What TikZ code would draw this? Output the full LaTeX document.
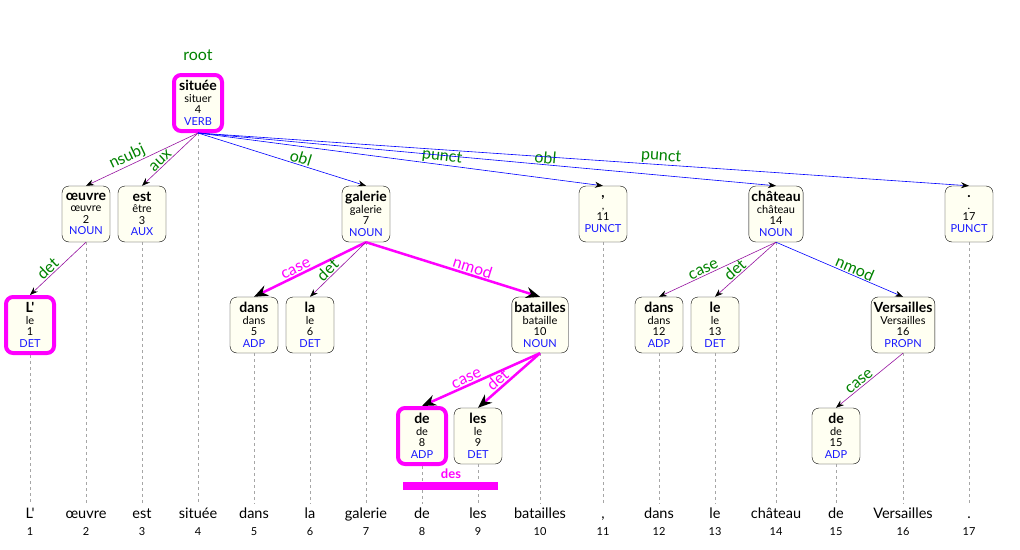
\documentclass[tikz,border=0pt]{standalone}
\usepackage{fontspec}
\setmainfont{Lato}[Ligatures=TeXOff]
\usetikzlibrary{arrows.meta}
\definecolor{tokfill}{RGB}{255,255,242}
\definecolor{hlmag}{RGB}{255,0,255}
\definecolor{posblue}{RGB}{25,25,255}
\definecolor{relgreen}{RGB}{0,130,0}
\definecolor{arcpurple}{RGB}{150,20,160}
\definecolor{arcblue}{RGB}{0,0,255}
\newcommand{\tokt}[4]{{\fontsize{14}{11.5}\selectfont\bfseries #1}\\#2\\#3\\\textcolor{posblue}{#4}}
\begin{document}
\begin{tikzpicture}[x=1pt,y=-1pt,
    tok/.style={draw, rounded corners=7pt, fill=tokfill, align=center,
      minimum width=48pt, minimum height=56pt, inner sep=2.5pt,
      font=\fontsize{11}{11.5}\selectfont},
    hl/.style={draw=hlmag, line width=4pt},
    thinarc/.style={line width=0.6pt, -{Stealth[black,length=8pt,width=6pt]}},
    thickarc/.style={draw=hlmag, line width=2.5pt, -{Stealth[black,length=14pt,width=11pt]}},
    rel/.style={pos=0.6, sloped, above, inner sep=1pt, text=relgreen,
      font=\fontsize{16}{17}\selectfont},
    hlrel/.style={rel, text=hlmag},
    guide/.style={draw=gray!70, line width=0.9pt, dash pattern=on 3pt off 3pt},
    word/.style={anchor=base, text height=10.5pt, text depth=3pt, inner sep=3pt,
      font=\fontsize{14.5}{15}\selectfont},
    idx/.style={anchor=base, font=\fontsize{11}{12}\selectfont}]
    \useasboundingbox (0,0) rectangle (1020,549);

    % Root
    \node[tok, hl] (n4) at (198,103) {\tokt{située}{situer}{4}{VERB}};
    \node[text=relgreen, font=\fontsize{16}{17}\selectfont] (root) at (198,55) {root};

    % Level 1
    \node[tok] (n2) at (86,214) {\tokt{œuvre}{œuvre}{2}{NOUN}};
    \node[tok] (n3) at (142,214) {\tokt{est}{être}{3}{AUX}};
    \node[tok] (n7) at (366,214) {\tokt{galerie}{galerie}{7}{NOUN}};
    \node[tok] (n11) at (603,214) {\tokt{,}{,}{11}{PUNCT}};
    \node[tok] (n14) at (776,214) {\tokt{château}{château}{14}{NOUN}};
    \node[tok] (n17) at (969,214) {\tokt{.}{.}{17}{PUNCT}};

    % Level 2
    \node[tok, hl] (n1) at (30,325) {\tokt{L'}{le}{1}{DET}};
    \node[tok] (n5) at (254,325) {\tokt{dans}{dans}{5}{ADP}};
    \node[tok] (n6) at (310,325) {\tokt{la}{le}{6}{DET}};
    \node[tok] (n10) at (540,325) {\tokt{batailles}{bataille}{10}{NOUN}};
    \node[tok] (n12) at (659,325) {\tokt{dans}{dans}{12}{ADP}};
    \node[tok] (n13) at (715,325) {\tokt{le}{le}{13}{DET}};
    \node[tok] (n16) at (903,325) {\tokt{Versailles}{Versailles}{16}{PROPN}};

    % Level 3
    \node[tok, hl] (n8) at (422,436) {\tokt{de}{de}{8}{ADP}};
    \node[tok] (n9) at (478,436) {\tokt{les}{le}{9}{DET}};
    \node[tok] (n15) at (836,436) {\tokt{de}{de}{15}{ADP}};

    % Sentence
    \node[word] (w1) at (30,518) {L'};
    \node[word] (w2) at (86,518) {œuvre};
    \node[word] (w3) at (142,518) {est};
    \node[word] (w4) at (198,518) {située};
    \node[word] (w5) at (254,518) {dans};
    \node[word] (w6) at (310,518) {la};
    \node[word] (w7) at (366,518) {galerie};
    \node[word] (w8) at (422,518) {de};
    \node[word] (w9) at (478,518) {les};
    \node[word] (w10) at (540,518) {batailles};
    \node[word] (w11) at (603,518) {,};
    \node[word] (w12) at (659,518) {dans};
    \node[word] (w13) at (715,518) {le};
    \node[word] (w14) at (776,518) {château};
    \node[word] (w15) at (836,518) {de};
    \node[word] (w16) at (903,518) {Versailles};
    \node[word] (w17) at (969,518) {.};
    \foreach \i/\x in {1/30,2/86,3/142,4/198,5/254,6/310,7/366,8/422,9/478,
      10/540,11/603,12/659,13/715,14/776,15/836,16/903,17/969}
      \node[idx] (i\i) at (\x,535) {\i};

    % Guides from tokens to words
    \foreach \i in {1,...,17}
      \draw[guide] (n\i.south) -- (w\i.north);

    % Contraction
    \fill[hlmag] (403,482) rectangle (498,490);
    \node[text=hlmag, font=\fontsize{13}{14}\selectfont\bfseries] (des) at (451,474) {des};

    % Dependencies of située
    \draw[thinarc, arcpurple] (n4.south) -- (n2.north) node[rel] {nsubj};
    \draw[thinarc, arcpurple] (n4.south) -- (n3.north) node[rel] {aux};
    \draw[thinarc, arcblue] (n4.south) -- (n7.north) node[rel] {obl};
    \draw[thinarc, arcblue] (n4.south) -- (n11.north) node[rel] {punct};
    \draw[thinarc, arcblue] (n4.south) -- (n14.north) node[rel] {obl};
    \draw[thinarc, arcblue] (n4.south) -- (n17.north) node[rel] {punct};

    % Dependencies of œuvre, galerie, batailles
    \draw[thinarc, arcpurple] (n2.south) -- (n1.north) node[rel] {det};
    \draw[thickarc] (n7.south) -- (n5.north) node[hlrel] {case};
    \draw[thinarc, arcpurple] (n7.south) -- (n6.north) node[rel] {det};
    \draw[thickarc] (n7.south) -- (n10.north) node[hlrel] {nmod};
    \draw[thickarc] (n10.south) -- (n8.north) node[hlrel] {case};
    \draw[thickarc] (n10.south) -- (n9.north) node[hlrel] {det};

    % Dependencies of château, Versailles
    \draw[thinarc, arcpurple] (n14.south) -- (n12.north) node[rel] {case};
    \draw[thinarc, arcpurple] (n14.south) -- (n13.north) node[rel] {det};
    \draw[thinarc, arcblue] (n14.south) -- (n16.north) node[rel] {nmod};
    \draw[thinarc, arcpurple] (n16.south) -- (n15.north) node[rel] {case};
\end{tikzpicture}
\end{document}
